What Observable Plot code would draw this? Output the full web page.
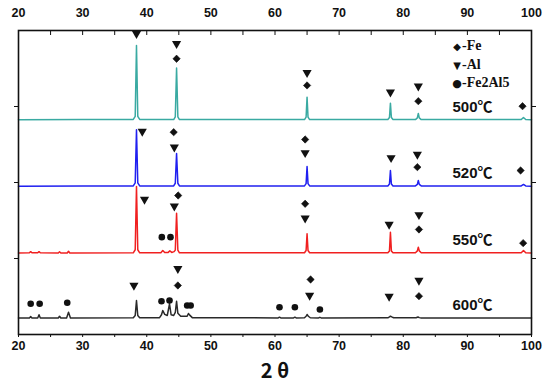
<!DOCTYPE html>
<html>
<head>
<meta charset="utf-8">
<script src="https://cdn.jsdelivr.net/npm/d3@7"></script>
<script src="https://cdn.jsdelivr.net/npm/@observablehq/plot@0.6"></script>
<style>
  body { margin: 0; background: #fff; }
  #wrap { position: relative; width: 550px; height: 391px; }
  #legend { position: absolute; left: 452px; top: 37px; font-family: "Liberation Serif", serif; font-weight: bold; font-size: 14px; line-height: 17.5px; color: #111; z-index: 2; }
  #legend .sym { display: inline-block; width: 10px; text-align: center; font-family: "DejaVu Sans", sans-serif; font-size: 10px; }
  #legend .big { font-size: 11px; }
</style>
</head>
<body>
<div id="wrap">
  <div id="legend">
    <div><span class="sym">◆</span>-Fe</div>
    <div><span class="sym">▼</span>-Al</div>
    <div><span class="sym big">●</span>-Fe2Al5</div>
  </div>
</div>
<script>
// 2θ (degrees) vs intensity (arbitrary, offset traces)
const xTicks = [20, 25, 30, 35, 40, 45, 50, 55, 60, 65, 70, 75, 80, 85, 90, 95, 100];
const yTicks = [1000, 2000, 3000];

const s500 = [[20,2825],[30,2828],[37.9,2830],[38.2,2870],[38.4,3803],[38.6,2870],[38.9,2830],[44.2,2828],[44.45,2865],[44.65,3505],[44.85,2865],[45.1,2828],[55,2830],[64.6,2828],[64.85,2860],[65.0,3123],[65.15,2860],[65.4,2828],[77.6,2828],[77.85,2855],[78.0,3044],[78.15,2855],[78.4,2828],[81.9,2828],[82.2,2850],[82.35,2908],[82.5,2850],[82.8,2828],[98.4,2828],[98.75,2856],[99.1,2828],[100,2825]];
const s520 = [[20,1950],[30,1955],[37.9,1955],[38.2,1995],[38.4,2694],[38.6,1995],[38.9,1955],[44.2,1955],[44.45,1990],[44.65,2382],[44.85,1990],[45.1,1955],[64.6,1955],[64.85,1985],[65.0,2211],[65.15,1985],[65.4,1955],[77.6,1955],[77.85,1980],[78.0,2158],[78.15,1980],[78.4,1955],[81.9,1955],[82.2,1975],[82.35,2027],[82.5,1975],[82.8,1955],[98.4,1955],[98.75,1974],[99.1,1955],[100,1950]];
const s550 = [[20,1073],[21.7,1075],[21.9,1090],[22.1,1075],[23.0,1075],[23.2,1090],[23.4,1075],[26.2,1073],[26.4,1088],[26.6,1073],[27.6,1073],[27.8,1095],[28.0,1073],[37.9,1075],[38.2,1115],[38.4,1948],[38.6,1115],[38.9,1075],[42.2,1075],[42.5,1105],[42.8,1078],[43.3,1078],[43.6,1100],[43.9,1080],[44.25,1090],[44.45,1110],[44.65,1596],[44.85,1110],[45.1,1075],[64.6,1075],[64.85,1105],[65.0,1325],[65.15,1105],[65.4,1075],[77.6,1075],[77.85,1100],[78.0,1346],[78.15,1100],[78.4,1075],[81.9,1075],[82.2,1100],[82.35,1149],[82.5,1100],[82.8,1075],[98.4,1075],[98.75,1105],[99.1,1075],[100,1073]];
const s600 = [[20,217],[21.7,218],[21.9,235],[22.1,218],[23.0,218],[23.2,259],[23.4,218],[26.2,217],[26.4,240],[26.6,217],[27.5,218],[27.8,293],[28.1,218],[37.9,220],[38.2,250],[38.4,447],[38.6,250],[38.9,220],[42.0,222],[42.3,260],[42.5,316],[42.8,265],[43.2,250],[43.55,404],[43.8,260],[44.2,250],[44.45,290],[44.65,438],[44.85,280],[45.3,240],[46.3,240],[46.5,276],[46.7,255],[47.1,222],[60.5,218],[60.7,228],[60.9,218],[62.9,218],[63.1,228],[63.3,218],[64.6,220],[64.85,240],[65.0,263],[65.2,240],[65.5,220],[66.8,218],[67.0,226],[67.2,218],[77.6,220],[77.85,232],[78.0,241],[78.2,232],[78.5,220],[82.0,220],[82.3,230],[82.5,222],[82.8,218],[100,217]];

const seriesNames = ["500℃", "520℃", "550℃", "600℃"];
const seriesColors = ["#3aaaa2", "#2020f0", "#f02020", "#2a2a2a"];
const seriesBase = [2825, 1952, 1073, 217];
const labelX = 90.8;

// phase markers [2θ, intensity]
const fe = [[44.65,3628],[65.0,3277],[82.35,3070],[98.6,3004],[44.2,2662],[64.7,2566],[82.2,2202],[98.3,2158],[44.9,1829],[64.7,1720],[82.45,1382],[98.7,1202],[44.85,645],[65.55,724],[82.45,504]];
const al = [[38.4,3957],[44.65,3826],[65.0,3444],[78.0,3189],[82.35,3268],[39.3,2671],[44.3,2465],[64.7,2391],[78.1,2325],[82.2,2369],[39.65,1777],[44.3,1688],[64.7,1531],[77.8,1448],[82.45,1575],[38.0,645],[44.85,865],[65.4,513],[77.8,500],[82.45,711]];
const fe2al5 = [[42.35,1281],[43.7,1281],[21.9,404],[23.3,404],[27.6,417],[42.3,438],[43.55,447],[46.3,382],[46.85,382],[60.7,359],[63.1,359],[67.0,329]];

const traces = [s500, s520, s550, s600];
const labels = seriesNames.map((name, i) => ({name, x: labelX, y: seriesBase[i]}));
const noLabel = () => "";

const chart = Plot.plot({
  width: 550,
  height: 391,
  marginTop: 30,
  marginBottom: 57,
  marginLeft: 18,
  marginRight: 19,
  x: {domain: [20, 100], label: null},
  y: {domain: [0, 4000], label: null},
  style: {fontFamily: "'Liberation Sans', Arial, sans-serif", fontSize: "12.5px", fontWeight: "bold", background: "#fff", color: "#111"},
  marks: [
    ...traces.map((t, i) => Plot.line(t, {x: d => d[0], y: d => d[1], stroke: seriesColors[i], strokeWidth: 1.5})),
    Plot.dot(fe, {x: d => d[0], y: d => d[1], symbol: "diamond2", r: 3.3, fill: "#111", stroke: "#111", strokeWidth: 0.6}),
    Plot.dot(al, {x: d => d[0], y: d => d[1], symbol: "triangle", rotate: 180, r: 3.4, fill: "#111", stroke: "none"}),
    Plot.dot(fe2al5, {x: d => d[0], y: d => d[1], symbol: "circle", r: 3.3, fill: "#111", stroke: "none"}),
    Plot.text(labels, {x: "x", y: "y", text: "name", dy: -13, fontSize: 15, fontWeight: "bold", fontFamily: "'Liberation Sans', 'Noto Sans CJK SC', sans-serif", fill: "#111"}),
    Plot.axisX({anchor: "top", ticks: xTicks, tickSize: -4, tickPadding: 18, tickFormat: d => d % 10 === 0 ? d : "", label: null, fontSize: 12.5}),
    Plot.axisX({anchor: "bottom", ticks: xTicks, tickSize: 3, tickPadding: 4, tickFormat: d => d % 10 === 0 ? d : "", label: null, fontSize: 12.5}),
    Plot.axisY({anchor: "left", ticks: yTicks, tickSize: 4, tickFormat: noLabel, label: null}),
    Plot.axisY({anchor: "right", ticks: yTicks, tickSize: 4, tickFormat: noLabel, label: null}),
    Plot.text(["2 θ"], {frameAnchor: "bottom", dy: 43, fontSize: 20, fontWeight: "bold", fontFamily: "'Noto Sans CJK SC', sans-serif", fill: "#111"}),
    Plot.frame({stroke: "#111", strokeWidth: 1.6})
  ]
});
document.getElementById("wrap").prepend(chart);
chart.style.position = "absolute";
chart.style.left = "0";
chart.style.top = "0";
</script>
</body>
</html>
